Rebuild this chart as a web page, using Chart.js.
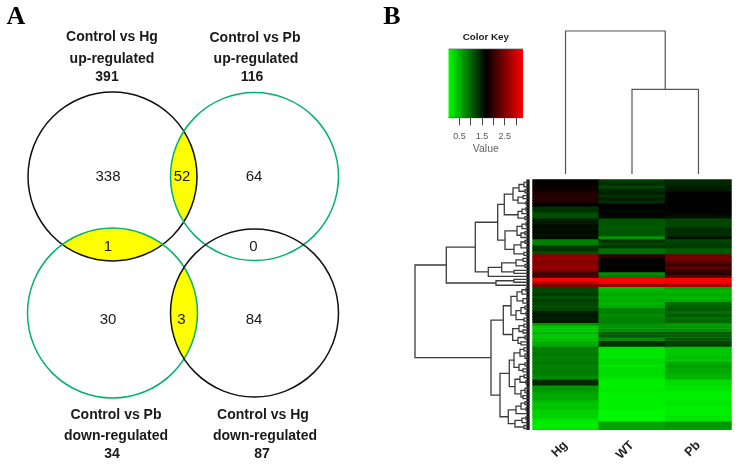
<!DOCTYPE html>
<html>
<head>
<meta charset="utf-8">
<title>Venn and heatmap</title>
<script src="https://cdn.jsdelivr.net/npm/chart.js@4"></script>
<style>
html, body { margin: 0; padding: 0; background: #fff; }
#page { position: relative; width: 738px; height: 464px; overflow: hidden; }
canvas { position: absolute; filter: blur(0.35px); }
#heat { filter: blur(0.7px); }
</style>
</head>
<body>
<div id="page">
  <canvas id="venn" width="420" height="464" style="left:0;top:0"></canvas>
  <canvas id="key" width="92" height="155" style="left:440px;top:0"></canvas>
  <canvas id="colTree" width="200" height="149" style="left:532px;top:25px"></canvas>
  <canvas id="rowTree" width="118" height="251" style="left:412px;top:179px"></canvas>
  <canvas id="heat" width="206" height="285" style="left:532px;top:179px"></canvas>
</div>
<script>
// venn counts
const vennCounts = ['338', '52', '64', '1', '0', '30', '3', '84'];
const vennHeaders = [
  ['Control vs Hg', 'up-regulated', '391'],
  ['Control vs Pb', 'up-regulated', '116'],
  ['Control vs Pb', 'down-regulated', '34'],
  ['Control vs Hg', 'down-regulated', '87']
];
const panelLetters = ['A', 'B'];

// heatmap
const samples = ['Hg', 'WT', 'Pb'];
const hgValues = [
  1.67, 1.7, 1.75, 1.75, 1.85, 1.9, 1.9, 1.85, 1.67, 1.34, 1.34, 1.15, 1.15, 1.47,
  1.5, 1.6, 1.55, 1.62, 1.55, 1.6, 0.82, 0.82, 1.28, 1.34, 1.15, 2.57, 2.64, 2.5,
  2.57, 2.64, 2.44, 2.05, 2.2, 3.32, 2.9, 2.5, 1.21, 1.21, 1.28, 1.15, 1.28, 1.21,
  1.15, 1.21, 1.47, 1.5, 1.47, 1.5, 0.69, 0.37, 0.37, 0.5, 0.37, 0.43, 0.5, 0.56,
  0.89, 0.82, 0.89, 0.82, 0.82, 0.89, 0.82, 0.82, 0.89, 0.82, 0.76, 1.37, 1.4, 0.69,
  0.69, 0.6, 0.56, 0.56, 0.43, 0.37, 0.43, 0.3, 0.3, 0.3, 0.17, 0.14, 0.11, 0.17
];
const wtValues = [
  1.28, 1.37, 1.21, 1.4, 1.47, 1.34, 1.47, 1.37, 1.67, 1.67, 1.62, 1.67, 1.62, 1.11,
  1.11, 1.11, 1.08, 1.11, 1.11, 0.69, 1.37, 1.21, 1.34, 0.95, 0.95, 1.99, 1.72, 1.67,
  1.62, 1.67, 1.7, 0.76, 0.9, 3.32, 3.22, 2.64, 0.43, 0.5, 0.56, 0.5, 0.56, 0.5,
  0.56, 0.82, 0.82, 0.76, 0.82, 0.82, 0.76, 0.69, 0.76, 1.08, 1.08, 0.76, 1.34, 1.34,
  0.17, 0.17, 0.17, 0.17, 0.24, 0.24, 0.17, 0.24, 0.24, 0.24, 0.17, 0.11, 0.11, 0.11,
  0.14, 0.11, 0.11, 0.09, 0.11, 0.09, 0.11, 0.05, 0.05, 0.05, 0.05, 0.63, 0.6, 0.6
];
const pbValues = [
  1.4, 1.4, 1.5, 1.5, 1.67, 1.67, 1.7, 1.67, 1.67, 1.7, 1.67, 1.62, 1.57, 1.21,
  1.21, 1.21, 1.37, 1.37, 1.34, 1.57, 1.21, 1.28, 1.28, 1.08, 1.08, 2.38, 2.44, 2.25,
  2.05, 2.25, 2.05, 1.92, 2.31, 3.32, 3.22, 2.77, 0.56, 0.5, 0.56, 0.5, 0.56, 0.95,
  1.02, 1.08, 0.95, 1.08, 0.95, 1.0, 0.69, 0.69, 0.76, 1.08, 1.02, 1.11, 1.21, 1.28,
  0.37, 0.37, 0.37, 0.43, 0.37, 0.56, 0.63, 0.56, 0.56, 0.5, 0.5, 0.24, 0.24, 0.17,
  0.17, 0.11, 0.11, 0.11, 0.17, 0.17, 0.11, 0.11, 0.11, 0.17, 0.17, 0.69, 0.69, 0.63
];
const heatColumns = [hgValues, wtValues, pbValues];

// colour key
const keyMin = 0.01;
const keyMax = 3.32;
const keyTicks = [0.5, 1, 1.5, 2, 2.5, 3];
const keyTickLabels = ['0.5', '', '1.5', '', '2.5', ''];

// dendrograms: [merge height, child, child], 0 is a leaf
const sampleTree = [143, 0, [84.7, 0, 0]];
const rowTree = [115,
  [83.7,
    [54.7,
      [32.3,
        [25.7,
          [17, [11, [6, [3, 0, 0], 0], [5, 0, 0]], [12, [7, 0, 0], [4, 0, 0]]],
          [12, [8, [4, 0, 0], 0], [5, 0, 0]]],
        [25,
          [13, [8, [4, 0, 0], 0], [9, [5, 0, 0], 0]],
          [16, [9, [5, 0, 0], [3, 0, 0]], [6, 0, 0]]]],
      [41.7,
        [28.3, [14, [7, 0, 0], [5, 0, 0]], [16, 0, 0]],
        0]],
    [34, [16, 0, 0], 0]],
  [39,
    [26.7,
      [19, [13, [8, [4, 0, 0], 0], [7, [3, 0, 0], 0]], [14, [9, [5, 0, 0], [4, 0, 0]], [6, 0, 0]]],
      [17.3, [11, [6, 0, 0], [7, 0, 0]], [12, [5, 0, 0], [9, 0, 0]]]],
    [30,
      [20.7,
        [16, [10, [6, 0, 0], [5, 0, [3, 0, 0]]], [11, [5, 0, 0], [7, 0, 0]]],
        [15, [10, [6, 0, 0], [4, 0, 0]], [9, [5, [2, 0, 0], 0], [7, 0, 0]]]],
      [21.7,
        [14, [9, [5, 0, 0], [4, 0, 0]], 0],
        [15, [8, [4, 0, 0], 0], [6, 0, 0]]]]]
];

// layout of the venn panel, in page pixels
const circleX = [112.5, 254.5, 112.5, 254.5];
const circleY = [176.5, 176.5, 313, 313];
const circleR = [84.5, 84, 85, 84];
const circleColors = ['#111', '#00b36b', '#00b36b', '#111'];
const lensPairs = [[0, 1], [0, 2], [2, 3]];
const countX = [108, 182, 254, 108, 253.5, 108, 181.5, 254];
const countY = [177, 177, 177, 247, 247, 320, 320, 320];
const headerX = [[112, 112, 107], [255, 256, 252], [116, 116, 112], [263, 265, 262]];
const headerY = [[37, 59, 77], [38.5, 59, 77], [415, 436, 454], [415, 436, 454]];
const letterX = [16, 392];
const letterY = [17, 17];

Chart.defaults.animation = false;
Chart.defaults.responsive = false;
Chart.defaults.font.family = '"Liberation Sans", Arial, sans-serif';
Chart.defaults.plugins.legend.display = false;
Chart.defaults.plugins.tooltip.enabled = false;

const vennPaint = {
  id: 'vennPaint',
  beforeDatasetsDraw(chart) {
    const { ctx, scales: { x, y } } = chart;
    const arc = (i) => {
      ctx.beginPath();
      ctx.arc(x.getPixelForValue(circleX[i]), y.getPixelForValue(circleY[i]), circleR[i], 0, Math.PI * 2);
    };
    lensPairs.forEach(([a, b]) => {
      ctx.save();
      arc(a);
      ctx.clip();
      arc(b);
      ctx.fillStyle = '#ffff00';
      ctx.fill();
      ctx.restore();
    });
  },
  afterDatasetsDraw(chart) {
    const { ctx, scales: { x, y } } = chart;
    ctx.save();
    ctx.textAlign = 'center';
    ctx.textBaseline = 'middle';
    ctx.fillStyle = '#1a1a1a';
    ctx.font = '15px "Liberation Sans", Arial, sans-serif';
    vennCounts.forEach((t, i) => {
      ctx.fillText(t, x.getPixelForValue(countX[i]), y.getPixelForValue(countY[i]));
    });
    ctx.font = 'bold 14px "Liberation Sans", Arial, sans-serif';
    vennHeaders.forEach((lines, i) => {
      lines.forEach((t, j) => {
        ctx.fillText(t, x.getPixelForValue(headerX[i][j]), y.getPixelForValue(headerY[i][j]));
      });
    });
    ctx.fillStyle = '#000';
    ctx.font = 'bold 26px "Liberation Serif", "Times New Roman", serif';
    panelLetters.forEach((t, i) => {
      ctx.fillText(t, x.getPixelForValue(letterX[i]), y.getPixelForValue(letterY[i]));
    });
    ctx.restore();
  }
};

new Chart(document.getElementById('venn'), {
  type: 'bubble',
  plugins: [vennPaint],
  data: {
    datasets: [{
      data: circleX.map((x, i) => ({ x, y: circleY[i], r: circleR[i] })),
      backgroundColor: 'rgba(0,0,0,0)',
      borderColor: circleColors,
      borderWidth: 1.5,
      clip: false
    }]
  },
  options: {
    layout: { padding: 0, autoPadding: false },
    scales: {
      x: { display: false, min: 0, max: 420 },
      y: { display: false, min: 0, max: 464, reverse: true }
    }
  }
});

// green - black - red, same ramp as the key
function heatColor(v) {
  const mid = (keyMin + keyMax) / 2;
  if (v < mid) return `rgb(0,${Math.round(255 * (mid - v) / (mid - keyMin))},0)`;
  return `rgb(${Math.round(255 * (v - mid) / (keyMax - mid))},0,0)`;
}

new Chart(document.getElementById('key'), {
  type: 'bar',
  data: {
    labels: ['Value'],
    datasets: [{
      data: [[keyMin, keyMax]],
      barPercentage: 1,
      categoryPercentage: 1,
      borderColor: '#333',
      borderWidth: { top: 1, bottom: 1 },
      borderSkipped: false,
      backgroundColor(c) {
        const area = c.chart.chartArea;
        if (!area) return '#000';
        const g = c.chart.ctx.createLinearGradient(area.left, 0, area.right, 0);
        g.addColorStop(0, heatColor(keyMin));
        g.addColorStop(0.5, heatColor((keyMin + keyMax) / 2));
        g.addColorStop(1, heatColor(keyMax));
        return g;
      }
    }]
  },
  options: {
    indexAxis: 'y',
    layout: { padding: { left: 8.3, right: 8.7, top: 0, bottom: 0 } },
    plugins: {
      title: {
        display: true,
        text: 'Color Key',
        color: '#222',
        font: { size: 9.8, weight: 'bold' },
        padding: { top: 31, bottom: 5.7 }
      }
    },
    scales: {
      y: { display: false },
      x: {
        min: keyMin,
        max: keyMax,
        afterBuildTicks(axis) { axis.ticks = keyTicks.map(value => ({ value })); },
        afterFit(axis) { axis.height = 36.7; axis.paddingLeft = 0; axis.paddingRight = 0; },
        border: { display: false },
        grid: { drawOnChartArea: false, tickLength: 7, tickColor: '#444', tickWidth: 1 },
        ticks: {
          autoSkip: false,
          maxRotation: 0,
          padding: 6,
          color: '#555',
          font: { size: 9 },
          callback(v, i) { return keyTickLabels[i]; }
        },
        title: {
          display: true,
          text: 'Value',
          color: '#666',
          font: { size: 10.5 },
          padding: { top: 0, bottom: 0 }
        }
      }
    }
  }
});

// walks a tree, leaves sit on 0.5, 1.5, ...
function treeLines(tree) {
  const pts = [];
  let leaf = 0;
  const walk = (node) => {
    if (node === 0) return { h: 0, pos: 0.5 + leaf++ };
    const a = walk(node[1]);
    const b = walk(node[2]);
    pts.push({ h: a.h, pos: a.pos }, { h: node[0], pos: a.pos }, { h: node[0], pos: b.pos },
      { h: b.h, pos: b.pos }, { h: NaN, pos: NaN });
    return { h: node[0], pos: (a.pos + b.pos) / 2 };
  };
  walk(tree);
  return pts;
}

new Chart(document.getElementById('colTree'), {
  type: 'scatter',
  data: {
    datasets: [{
      data: treeLines(sampleTree).map(p => ({ x: p.pos, y: p.h })),
      showLine: true,
      pointRadius: 0,
      borderColor: '#555',
      borderWidth: 1.2,
      clip: false
    }]
  },
  options: {
    layout: { padding: { left: 0.3, right: 0.3, top: 0, bottom: 0 } },
    scales: {
      x: { display: false, min: 0, max: samples.length },
      y: { display: false, min: 0, max: 149 }
    }
  }
});

new Chart(document.getElementById('rowTree'), {
  type: 'scatter',
  data: {
    datasets: [{
      data: treeLines(rowTree).map(p => ({ x: p.h, y: p.pos })),
      showLine: true,
      pointRadius: 0,
      borderColor: '#3c3c3c',
      borderWidth: 1.3,
      clip: false
    }, {
      // leaves are too dense to tell apart at this size
      data: [{ x: 2, y: 0 }, { x: 2, y: hgValues.length }],
      showLine: true,
      pointRadius: 0,
      borderColor: '#000',
      borderWidth: 3
    }]
  },
  options: {
    layout: { padding: { top: 0.3, bottom: 0, left: 0, right: 0 } },
    scales: {
      x: { display: false, min: 0, max: 118, reverse: true },
      y: { display: false, min: 0, max: hgValues.length, reverse: true }
    }
  }
});

new Chart(document.getElementById('heat'), {
  type: 'bar',
  data: {
    labels: samples,
    datasets: hgValues.map((_, row) => ({
      data: samples.map(() => 1),
      backgroundColor: heatColumns.map(col => heatColor(col[row])),
      barPercentage: 1,
      categoryPercentage: 1
    }))
  },
  options: {
    layout: { padding: { top: 0.3, left: 0.3, right: 6.3, bottom: 0 } },
    scales: {
      y: { display: false, stacked: true, min: 0, max: hgValues.length, reverse: true },
      x: {
        stacked: true,
        afterFit(axis) { axis.height = 34; axis.paddingLeft = 0; axis.paddingRight = 0; },
        border: { display: false },
        grid: { display: false },
        ticks: {
          autoSkip: false,
          minRotation: 45,
          maxRotation: 45,
          padding: 0,
          color: '#222',
          font: { size: 12.5, weight: 'bold' }
        }
      }
    }
  }
});
</script>
</body>
</html>
